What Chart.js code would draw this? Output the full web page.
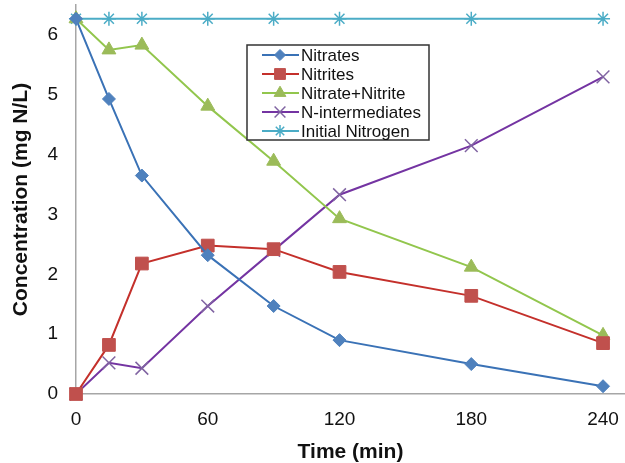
<!DOCTYPE html>
<html>
<head>
<meta charset="utf-8">
<script src="https://cdn.jsdelivr.net/npm/chart.js@4"></script>
<style>
  html, body { margin: 0; padding: 0; background: #fff; }
  #wrap { width: 625px; height: 463px; }
</style>
</head>
<body>
<div id="wrap"><canvas id="chart" width="625" height="463"></canvas></div>
<script>
// sampling times (min)
const timeMin = [0, 15, 30, 60, 90, 120, 180, 240];

// concentrations (mg N/L)
const nitrates        = [6.27, 4.93, 3.65, 2.32, 1.47, 0.90, 0.50, 0.13];
const nitrites        = [0.00, 0.82, 2.18, 2.48, 2.42, 2.04, 1.64, 0.85];
const nitrateNitrite  = [6.27, 5.75, 5.83, 4.81, 3.89, 2.93, 2.12, 0.98];
const nIntermediates  = [0.00, 0.52, 0.43, 1.47, 2.40, 3.33, 4.15, 5.30];
const initialNitrogen = [6.27, 6.27, 6.27, 6.27, 6.27, 6.27, 6.27, 6.27];

const xTicks = [0, 60, 120, 180, 240];
const yTicks = [0, 1, 2, 3, 4, 5, 6];

const FONT = "'Liberation Sans', Arial, sans-serif";

const pts = arr => arr.map((v, i) => ({ x: timeMin[i], y: v }));

function series(label, data, line, fill, style, radius) {
  return {
    label,
    data: pts(data),
    borderColor: line,
    borderWidth: 2,
    pointStyle: style,
    pointRadius: radius,
    pointBackgroundColor: fill,
    pointBorderColor: fill,
    pointBorderWidth: (style === 'crossRot' || style === 'star') ? 1.5 : 1,
    tension: 0,
    clip: false
  };
}

const datasets = [
  series('Nitrates', nitrates, '#3a72b6', '#4f81bd', 'rectRot', 6.5),
  series('Nitrites', nitrites, '#c4302b', '#c0504d', 'rect', 9),
  series('Nitrate+Nitrite', nitrateNitrite, '#92c64d', '#9bbb59', 'triangle', 8),
  series('N-intermediates', nIntermediates, '#7434a2', '#8064a2', 'crossRot', 9),
  series('Initial Nitrogen', initialNitrogen, '#4bacc6', '#4bacc6', 'star', 7)
];

// legend box drawn inside the plot, line + marker like the original
const boxLegend = {
  id: 'boxLegend',
  afterDraw(chart) {
    const ctx = chart.ctx;
    const x0 = 247, y0 = 45, w = 182, h = 95;
    ctx.save();
    ctx.fillStyle = '#fff';
    ctx.fillRect(x0, y0, w, h);
    ctx.strokeStyle = '#333';
    ctx.lineWidth = 1.5;
    ctx.strokeRect(x0, y0, w, h);
    ctx.font = '17px ' + FONT;
    ctx.textBaseline = 'middle';
    chart.data.datasets.forEach((ds, i) => {
      const cy = y0 + 10 + i * 19;
      ctx.strokeStyle = ds.borderColor;
      ctx.lineWidth = 2;
      ctx.beginPath();
      ctx.moveTo(x0 + 15, cy);
      ctx.lineTo(x0 + 52, cy);
      ctx.stroke();
      ctx.fillStyle = ds.pointBackgroundColor;
      ctx.strokeStyle = ds.pointBorderColor;
      ctx.lineWidth = ds.pointBorderWidth;
      Chart.helpers.drawPoint(ctx, { pointStyle: ds.pointStyle, radius: ds.pointRadius * 0.85, borderWidth: ds.pointBorderWidth }, x0 + 33, cy);
      ctx.fillStyle = '#111';
      ctx.fillText(ds.label, x0 + 54, cy + 1);
    });
    ctx.restore();
  }
};

new Chart(document.getElementById('chart'), {
  type: 'line',
  data: { datasets },
  options: {
    responsive: false,
    animation: false,
    layout: { autoPadding: false, padding: { top: 5, right: 0, left: 0, bottom: 0 } },
    plugins: { legend: { display: false }, tooltip: { enabled: false } },
    scales: {
      x: {
        type: 'linear',
        min: 0,
        max: 250,
        afterFit: s => { s.height = 69; s.paddingLeft = 0; s.paddingRight = 0; },
        afterBuildTicks: s => { s.ticks = xTicks.map(v => ({ value: v })); },
        grid: { display: false, drawTicks: false },
        border: { display: true, color: '#a6a6a6', width: 1.5 },
        ticks: { color: '#111', padding: 14, font: { family: FONT, size: 19 }, maxRotation: 0 },
        title: { display: true, text: 'Time (min)', color: '#111', padding: { top: 6, bottom: -2 }, font: { family: FONT, size: 21, weight: 'bold' } }
      },
      y: {
        min: 0,
        max: 6.5,
        afterFit: s => { s.width = 76; s.paddingTop = 0; s.paddingBottom = 0; },
        afterBuildTicks: s => { s.ticks = yTicks.map(v => ({ value: v })); },
        grid: { display: false, drawTicks: false },
        border: { display: true, color: '#a6a6a6', width: 1.5 },
        ticks: { color: '#111', padding: 18, font: { family: FONT, size: 19 } },
        title: { display: true, text: 'Concentration (mg N/L)', color: '#111', padding: { top: 9, bottom: 0 }, font: { family: FONT, size: 21, weight: 'bold' } }
      }
    }
  },
  plugins: [boxLegend]
});
</script>
</body>
</html>
